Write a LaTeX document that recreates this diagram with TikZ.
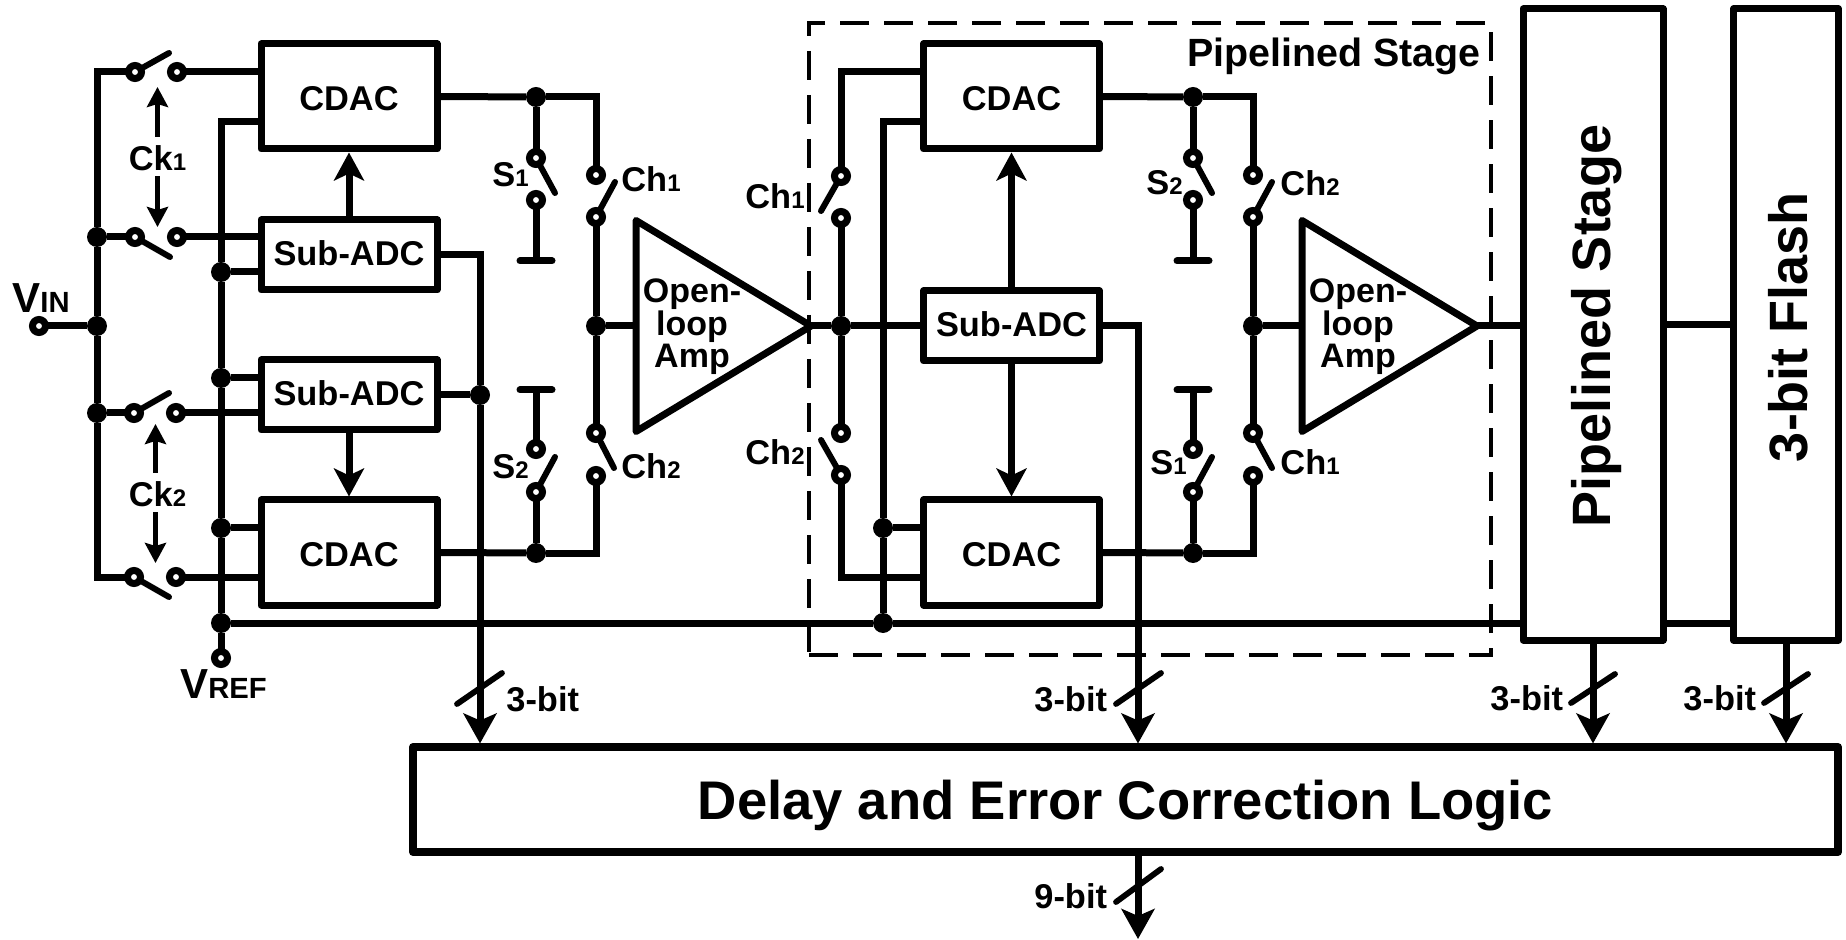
\documentclass[tikz,border=0pt]{standalone}
\usepackage{fontspec}
\setmainfont{Liberation Sans}
\usetikzlibrary{arrows.meta,shapes.geometric}
\newcommand{\lowidx}[1]{{\fontsize{12}{12}\selectfont #1}}
\newcommand{\lowcap}[1]{{\fontsize{14.6}{14.6}\selectfont #1}}

\begin{document}
\begin{tikzpicture}[x=0.5pt,y=-0.5pt,font=\fontsize{17.2}{17.2}\selectfont\bfseries,
          blk/.style={draw, line width=3.5pt, line join=round, inner sep=0pt, outer sep=0pt,
                      text depth=0pt, minimum width=88pt},
          tall/.style={blk, minimum height=52.5pt, text height=14.5pt},
          flat/.style={blk, minimum height=35pt, text height=11pt},
          amp/.style={draw, line width=3.5pt, line join=round, isosceles triangle,
                      isosceles triangle apex angle=62.4, isosceles triangle stretches,
                      minimum width=105.5pt, minimum height=87.5pt,
                      inner sep=0pt, outer sep=0pt, anchor=apex},
          lbl/.style={inner sep=0pt, anchor=base west, text depth=0pt},
          big/.style={inner sep=0pt, anchor=base, text depth=0pt, rotate=90,
                      font=\fontsize{27}{27}\selectfont\bfseries},
          term/.style={circle, draw, fill=white, line width=3.5pt, inner sep=0pt,
                       outer sep=0pt, minimum size=6.5pt},
          dot/.style={circle, fill=black, inner sep=0pt, outer sep=0pt, minimum size=10pt},
          wire/.style={line width=3.5pt},
          blade/.style={line width=3pt, line cap=round},
          gnd/.style={line width=3.5pt, line cap=round},
          slash/.style={line width=2.9pt, line cap=round},
          arr/.style={wire, -{Stealth[length=15pt,width=16.5pt,inset=3.5pt]}, shorten >=1.75pt},
          ctl/.style={wire, -{Stealth[length=14pt,width=15pt,inset=3.5pt]}, shorten >=1.75pt},
          ck/.style={line width=2.5pt, -{Stealth[length=10pt,width=10.5pt,inset=1.5pt]}}]
        \useasboundingbox (0,0) rectangle (1846,940);

        \node[draw, line width=1.6pt, dash pattern=on 14.5pt off 7.5pt, minimum width=341pt,
              minimum height=316pt, inner sep=0pt, outer sep=0pt] (stagebox) at (1150,339) {};
        \node[lbl, font=\fontsize{19.7}{19.7}\selectfont\bfseries] (stagelbl) at (1187,67) {Pipelined Stage};

        \node[tall] (cdac1) at (349,96.5)    {CDAC};
        \node[flat] (sub1)  at (349,255)     {Sub-ADC};
        \node[flat] (sub2)  at (349,395)     {Sub-ADC};
        \node[tall] (cdac2) at (349,552.5)   {CDAC};
        \node[tall] (cdac3) at (1011.5,96.5) {CDAC};
        \node[flat] (sub3)  at (1011.5,326)  {Sub-ADC};
        \node[tall] (cdac4) at (1011.5,552.5){CDAC};
        \node[blk, minimum width=70pt, minimum height=315.5pt] (pipe) at (1593,324.5) {};
        \node[blk, minimum width=52.5pt, minimum height=315.5pt] (flash) at (1786,324.5) {};
        \node[big] (pipelbl)  at (1610,326) {Pipelined Stage};
        \node[big] (flashlbl) at (1807,327) {3-bit Flash};
        \node[blk, line width=4pt, minimum width=712.5pt, minimum height=52.5pt,
              font=\fontsize{27.2}{27.2}\selectfont\bfseries] (delay) at (1125.5,799.5)
              {Delay and Error Correction Logic};

        \node[amp] (amp1) at (811,326)  {};
        \node[amp] (amp2) at (1477,326) {};
        \node[align=center, inner sep=0pt, font=\fontsize{17}{15.75}\selectfont\bfseries]
              (amp1lbl) at (692,326.5)  {Open-\\loop\\Amp};
        \node[align=center, inner sep=0pt, font=\fontsize{17}{15.75}\selectfont\bfseries]
              (amp2lbl) at (1358,326.5) {Open-\\loop\\Amp};

        \node[dot] (jin) at (97,326) {};
        \node[dot] (j1)  at (97,237) {};
        \node[dot] (j2)  at (97,413) {};
        \node[dot] (r1)  at (221,272) {};
        \node[dot] (r2)  at (221,378) {};
        \node[dot] (r3)  at (221,528) {};
        \node[dot] (r4)  at (221,623) {};
        \node[dot] (r5)  at (883,623) {};
        \node[dot] (r6)  at (883,528) {};
        \node[dot] (j3)  at (480,395) {};
        \node[dot] (jt1) at (536,97) {};
        \node[dot] (jb1) at (536,553) {};
        \node[dot] (jm1) at (596,326) {};
        \node[dot] (jm)  at (841,326) {};
        \node[dot] (jt2) at (1193,97) {};
        \node[dot] (jb2) at (1193,553) {};
        \node[dot] (jm2) at (1253,326) {};

        \node[term] (vin)  at (39,326) {};
        \node[term] (vref) at (221,658) {};
        \node[term] (sa1)  at (135,72) {};
        \node[term] (sa2)  at (177,72) {};
        \node[term] (sb1)  at (135,237) {};
        \node[term] (sb2)  at (177,237) {};
        \node[term] (sc1)  at (134,413) {};
        \node[term] (sc2)  at (176,413) {};
        \node[term] (sd1)  at (134,577) {};
        \node[term] (sd2)  at (176,577) {};
        \node[term] (w1a)  at (536,158) {};
        \node[term] (w1b)  at (536,200) {};
        \node[term] (w2a)  at (536,492) {};
        \node[term] (w2b)  at (536,449) {};
        \node[term] (ta1)  at (596,175) {};
        \node[term] (ta2)  at (596,217) {};
        \node[term] (tb1)  at (596,433) {};
        \node[term] (tb2)  at (596,476) {};
        \node[term] (ca1)  at (841,176) {};
        \node[term] (ca2)  at (841,218) {};
        \node[term] (cb1)  at (841,433) {};
        \node[term] (cb2)  at (841,475) {};
        \node[term] (ua1)  at (1193,158) {};
        \node[term] (ua2)  at (1193,200) {};
        \node[term] (ub1)  at (1193,492) {};
        \node[term] (ub2)  at (1193,449) {};
        \node[term] (va1)  at (1253,175) {};
        \node[term] (va2)  at (1253,217) {};
        \node[term] (vb1)  at (1253,433) {};
        \node[term] (vb2)  at (1253,476) {};

        \coordinate (sae)  at (169,53);
        \coordinate (sbe)  at (170,257);
        \coordinate (sce)  at (169,393);
        \coordinate (sde)  at (169,597);
        \coordinate (w1e)  at (555,193);
        \coordinate (w2e)  at (555,457);
        \coordinate (tae)  at (615,182);
        \coordinate (tbe)  at (614,468);
        \coordinate (cae)  at (821,211);
        \coordinate (cbe)  at (821,440);
        \coordinate (uae)  at (1212,193);
        \coordinate (ube)  at (1212,457);
        \coordinate (vae)  at (1272,182);
        \coordinate (vbe)  at (1272,468);
        \coordinate (g1)   at (536,261);
        \coordinate (g2)   at (536,390);
        \coordinate (g3)   at (1193,261);
        \coordinate (g4)   at (1193,390);
        \coordinate (rtop) at (221,122);
        \coordinate (dout) at (1138,747);
        \coordinate (out)  at (1138,939);

        \draw[wire] (vin) -- (jin);
        \draw[wire] (sa1) -| (j1);
        \draw[wire] (j1) -- (jin);
        \draw[wire] (jin) -- (j2);
        \draw[wire] (sd1) -| (j2);
        \draw[wire] (j1) -- (sb1);
        \draw[wire] (j2) -- (sc1);
        \draw[wire] (sa2) -- (sa2 -| cdac1.west);
        \draw[wire] (sb2) -- (sb2 -| sub1.west);
        \draw[wire] (sc2) -- (sc2 -| sub2.west);
        \draw[wire] (sd2) -- (sd2 -| cdac2.west);
        \draw[blade] (sa1) -- (sae);
        \draw[blade] (sb1) -- (sbe);
        \draw[blade] (sc1) -- (sce);
        \draw[blade] (sd1) -- (sde);

        \draw[wire] (rtop -| cdac1.west) -| (r1);
        \draw[wire] (r1) -- (r2);
        \draw[wire] (r2) -- (r3);
        \draw[wire] (r3) -- (r4);
        \draw[wire] (r4) -- (vref);
        \draw[wire] (r1) -- (r1 -| sub1.west);
        \draw[wire] (r2) -- (r2 -| sub2.west);
        \draw[wire] (r3) -- (r3 -| cdac2.west);
        \draw[wire] (r4) -- (r5);
        \draw[wire] (r5) -- (r4 -| pipe.west);
        \draw[wire] (r4 -| pipe.east) -- (r4 -| flash.west);
        \draw[wire] (rtop -| cdac3.west) -| (r6);
        \draw[wire] (r6) -- (r5);
        \draw[wire] (r6) -- (r6 -| cdac4.west);

        \draw[ctl] (sub1) -- (cdac1);
        \draw[ctl] (sub2) -- (cdac2);
        \draw[ctl] (sub3) -- (cdac3);
        \draw[ctl] (sub3) -- (cdac4);

        \draw[wire] (sub1.east) -| (j3);
        \draw[wire] (sub2.east) -- (j3);
        \draw[arr] (j3) -- (j3 |- delay.north);

        \draw[wire] (cdac1.east) -- (jt1);
        \draw[wire] (jt1) -| (ta1);
        \draw[wire] (jt1) -- (w1a);
        \draw[blade] (w1a) -- (w1e);
        \draw[wire] (w1b) -- (g1);
        \draw[gnd] ([xshift=-8pt]g1) -- ([xshift=8pt]g1);
        \draw[blade] (ta2) -- (tae);
        \draw[wire] (ta2) -- (jm1);
        \draw[wire] (jm1) -- (tb1);
        \draw[wire] (jm1) -- (amp1.west);
        \draw[blade] (tb1) -- (tbe);
        \draw[wire] (cdac2.east) -- (jb1);
        \draw[wire] (jb1) -| (tb2);
        \draw[wire] (jb1) -- (w2a);
        \draw[blade] (w2a) -- (w2e);
        \draw[wire] (w2b) -- (g2);
        \draw[gnd] ([xshift=-8pt]g2) -- ([xshift=8pt]g2);

        \draw[wire] (amp1.apex) -- (jm);
        \draw[wire] (jm) -- (sub3.west);
        \draw[wire] (ca1) |- (sa2 -| cdac3.west);
        \draw[blade] (ca1) -- (cae);
        \draw[wire] (ca2) -- (jm);
        \draw[wire] (jm) -- (cb1);
        \draw[blade] (cb2) -- (cbe);
        \draw[wire] (cb2) |- (sd2 -| cdac4.west);
        \draw[arr] (sub3.east) -| (dout);

        \draw[wire] (cdac3.east) -- (jt2);
        \draw[wire] (jt2) -| (va1);
        \draw[wire] (jt2) -- (ua1);
        \draw[blade] (ua1) -- (uae);
        \draw[wire] (ua2) -- (g3);
        \draw[gnd] ([xshift=-8pt]g3) -- ([xshift=8pt]g3);
        \draw[blade] (va2) -- (vae);
        \draw[wire] (va2) -- (jm2);
        \draw[wire] (jm2) -- (vb1);
        \draw[wire] (jm2) -- (amp2.west);
        \draw[blade] (vb1) -- (vbe);
        \draw[wire] (cdac4.east) -- (jb2);
        \draw[wire] (jb2) -| (vb2);
        \draw[wire] (jb2) -- (ub1);
        \draw[blade] (ub1) -- (ube);
        \draw[wire] (ub2) -- (g4);
        \draw[gnd] ([xshift=-8pt]g4) -- ([xshift=8pt]g4);

        \draw[wire] (amp2.apex) -- (amp2.apex -| pipe.west);
        \draw[wire] (pipe.east) -- (flash.west);
        \draw[arr] (pipe.south) -- (pipe.south |- delay.north);
        \draw[arr] (flash.south) -- (flash.south |- delay.north);
        \draw[arr, shorten >=0pt] (out |- delay.south) -- (out);

        \node[lbl, font=\fontsize{21}{21}\selectfont\bfseries] (vinlbl)  at (12,313)  {V\lowcap{IN}};
        \node[lbl, font=\fontsize{21}{21}\selectfont\bfseries] (vreflbl) at (180,698) {V\lowcap{REF}};
        \node[lbl, anchor=base] (ck1) at (157.5,171) {Ck\lowidx{1}};
        \node[lbl, anchor=base] (ck2) at (157.5,507) {Ck\lowidx{2}};
        \coordinate (ck1u) at (157.5,87);
        \coordinate (ck1d) at (157.5,227);
        \coordinate (ck2u) at (155.5,424);
        \coordinate (ck2d) at (155.5,563);
        \draw[ck, shorten <=4.5pt] (ck1u |- ck1.north) -- (ck1u);
        \draw[ck, shorten <=2.5pt] (ck1d |- ck1.south) -- (ck1d);
        \draw[ck, shorten <=4.5pt] (ck2u |- ck2.north) -- (ck2u);
        \draw[ck, shorten <=2.5pt] (ck2d |- ck2.south) -- (ck2d);

        \node[lbl] (ls1)  at (492,187)  {S\lowidx{1}};
        \node[lbl] (ls2)  at (492,479)  {S\lowidx{2}};
        \node[lbl] (lh1)  at (621,192)  {Ch\lowidx{1}};
        \node[lbl] (lh2)  at (621,479)  {Ch\lowidx{2}};
        \node[lbl] (lm1)  at (745,209)  {Ch\lowidx{1}};
        \node[lbl] (lm2)  at (745,465)  {Ch\lowidx{2}};
        \node[lbl] (lr2)  at (1146,195) {S\lowidx{2}};
        \node[lbl] (lr1)  at (1150,475) {S\lowidx{1}};
        \node[lbl] (lv2)  at (1280,196) {Ch\lowidx{2}};
        \node[lbl] (lv1)  at (1280,475) {Ch\lowidx{1}};

        \coordinate (k1a) at (457,704);
        \coordinate (k1b) at (502,673);
        \coordinate (k2a) at (1116,704);
        \coordinate (k2b) at (1161,673);
        \coordinate (k3a) at (1571,703);
        \coordinate (k3b) at (1615,674);
        \coordinate (k4a) at (1764,703);
        \coordinate (k4b) at (1808,674);
        \coordinate (k5a) at (1116,902);
        \coordinate (k5b) at (1161,869);
        \draw[slash] (k1a) -- (k1b);
        \draw[slash] (k2a) -- (k2b);
        \draw[slash] (k3a) -- (k3b);
        \draw[slash] (k4a) -- (k4b);
        \draw[slash] (k5a) -- (k5b);
        \node[lbl] (bit1) at (506,711)  {3-bit};
        \node[lbl] (bit2) at (1034,711) {3-bit};
        \node[lbl] (bit3) at (1490,710) {3-bit};
        \node[lbl] (bit4) at (1683,710) {3-bit};
        \node[lbl] (bit5) at (1034,908) {9-bit};
      \end{tikzpicture}
\end{document}
